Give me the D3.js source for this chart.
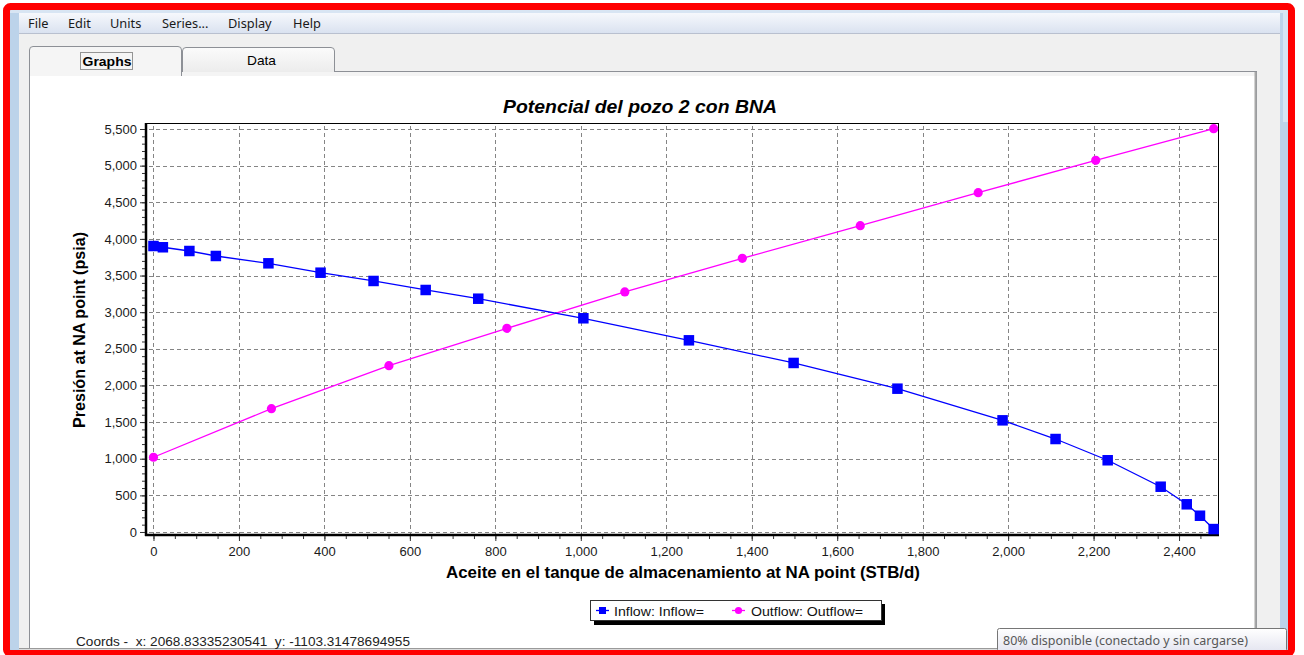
<!DOCTYPE html>
<html><head><meta charset="utf-8">
<script src="https://cdn.jsdelivr.net/npm/d3@7"></script>
<style>body{margin:0;background:#fff;overflow:hidden}svg{display:block}</style>
</head><body><svg id="c" width="1304" height="655"></svg>
<script>
// ---- data ----
const inflowX = [0, 22, 84, 146, 269, 391, 515, 637, 760, 1006, 1253, 1498, 1741, 1987, 2111, 2233, 2357, 2418, 2449, 2481];
const inflowY = [3903, 3886, 3835, 3767, 3667, 3539, 3426, 3303, 3184, 2917, 2616, 2307, 1956, 1524, 1269, 979, 618, 378, 222, 40];
const outflowX = [0, 276, 551, 827, 1103, 1378, 1654, 1930, 2205, 2481];
const outflowY = [1020, 1683, 2270, 2780, 3276, 3735, 4181, 4631, 5073, 5504];
const xTickValues = [0, 200, 400, 600, 800, 1000, 1200, 1400, 1600, 1800, 2000, 2200, 2400];
const yTickValues = [0, 500, 1000, 1500, 2000, 2500, 3000, 3500, 4000, 4500, 5000, 5500];
const seriesNames = ["Inflow: Inflow=", "Outflow: Outflow="];
const chartTitle = "Potencial del pozo 2 con BNA";
const xTitle = "Aceite en el tanque de almacenamiento at NA point (STB/d)";
const yTitle = "Presión at NA point (psia)";
const menuItems = ["File", "Edit", "Units", "Series...", "Display", "Help"];
const tabLabels = ["Graphs", "Data"];
const coordsText = "Coords -  x: 2068.83335230541  y: -1103.31478694955";
const statusText = "80% disponible (conectado y sin cargarse)";

const svg = d3.select("#c");
const FONT = "'Liberation Sans', Arial, sans-serif";
const UI = "'Noto Sans', 'Open Sans', sans-serif";

// ---- window chrome ----
svg.append("rect").attr("x",0).attr("y",0).attr("width",1304).attr("height",655).attr("fill","#fff");
svg.append("rect").attr("x",10).attr("y",10).attr("width",1279).attr("height",642).attr("fill","#f0f0f0");
svg.append("rect").attr("x",10).attr("y",10).attr("width",9).attr("height",642).attr("fill","#bcd3ea");
svg.append("rect").attr("x",1280).attr("y",10).attr("width",9).attr("height",642).attr("fill","#bcd3ea");
svg.append("rect").attr("x",1283).attr("y",12).attr("width",5).attr("height",110).attr("fill","#d6e5f4");
svg.append("rect").attr("x",10).attr("y",10).attr("width",1279).attr("height",3).attr("fill","#d8e5f3");
const defs = svg.append("defs");
const mg = defs.append("linearGradient").attr("id","mg").attr("x1",0).attr("x2",0).attr("y1",0).attr("y2",1);
mg.append("stop").attr("offset","0%").attr("stop-color","#f6f8fc");
mg.append("stop").attr("offset","100%").attr("stop-color","#dae2f0");
svg.append("rect").attr("x",19).attr("y",13).attr("width",1261).attr("height",20).attr("fill","url(#mg)");
svg.append("line").attr("x1",19).attr("x2",1280).attr("y1",33.5).attr("y2",33.5).attr("stroke","#b9c0cf");
const menuX = [28, 68, 110, 162, 228, 293];
svg.selectAll("text.menu").data(menuItems).enter().append("text")
  .attr("x",(d,i)=>menuX[i]).attr("y",28).attr("font-family",UI).attr("font-size",12.8)
  .attr("fill","#1a1a1a").text(d=>d);

// panel
svg.append("rect").attr("x",29.5).attr("y",71.5).attr("width",1227).attr("height",600)
  .attr("fill","#fff").attr("stroke","#8d9096");
svg.append("rect").attr("x",30).attr("y",72).attr("width",1226).attr("height",4).attr("fill","#f4f4f4");
svg.append("line").attr("x1",1255.5).attr("x2",1255.5).attr("y1",72).attr("y2",648).attr("stroke","#a8a8a8").attr("stroke-width",2);
svg.append("rect").attr("x",19).attr("y",648).attr("width",1261).attr("height",3).attr("fill","#dcdcdc");
svg.append("line").attr("x1",19).attr("x2",1280).attr("y1",648.5).attr("y2",648.5).attr("stroke","#9a9a9a");

// tabs
const tg = defs.append("linearGradient").attr("id","tg").attr("x1",0).attr("x2",0).attr("y1",0).attr("y2",1);
tg.append("stop").attr("offset","0%").attr("stop-color","#fbfbfb");
tg.append("stop").attr("offset","100%").attr("stop-color","#ececec");
svg.append("path").attr("d","M182.5,72 L182.5,51 Q182.5,47.5 186,47.5 L331,47.5 Q334.5,47.5 334.5,51 L334.5,72")
  .attr("fill","url(#tg)").attr("stroke","#8d9096");
svg.append("path").attr("d","M29.5,76 L29.5,50 Q29.5,46.5 33,46.5 L178,46.5 Q181.5,46.5 181.5,50 L181.5,76")
  .attr("fill","#f5f5f5").attr("stroke","#8d9096");
svg.append("rect").attr("x",30).attr("y",72).attr("width",151).attr("height",4).attr("fill","#f5f5f5");
svg.append("text").attr("x",107).attr("y",66).attr("text-anchor","middle").attr("font-family",FONT)
  .attr("font-size",13.5).attr("font-weight","bold").attr("fill","#000")
  .attr("textLength",49).attr("lengthAdjust","spacingAndGlyphs").text(tabLabels[0]);
svg.append("rect").attr("x",80.5).attr("y",52.5).attr("width",52).attr("height",17)
  .attr("fill","none").attr("stroke","#333").attr("stroke-dasharray","1,1");
svg.append("text").attr("x",261.5).attr("y",65).attr("text-anchor","middle").attr("font-family",FONT)
  .attr("font-size",13.5).attr("fill","#000")
  .attr("textLength",29).attr("lengthAdjust","spacingAndGlyphs").text(tabLabels[1]);

// ---- chart ----
const L = 146, T = 123, R = 1219, B = 535;
const x = d3.scaleLinear().domain([-17.5, 2493.5]).range([L, R]);
const y = d3.scaleLinear().domain([-41, 5582]).range([B, T]);

// grid
const g = svg.append("g");
g.selectAll("line.vg").data(xTickValues).enter().append("line")
  .attr("x1",d=>Math.round(x(d))+0.5).attr("x2",d=>Math.round(x(d))+0.5).attr("y1",T+3).attr("y2",B-1)
  .attr("stroke","#858585").attr("stroke-dasharray","4,3");
g.selectAll("line.hg").data(yTickValues).enter().append("line")
  .attr("y1",d=>Math.round(y(d))+0.5).attr("y2",d=>Math.round(y(d))+0.5).attr("x1",L+3).attr("x2",R-2)
  .attr("stroke","#858585").attr("stroke-dasharray","4,3");

// frame
svg.append("rect").attr("x",L+0.5).attr("y",T+0.5).attr("width",R-L-1).attr("height",B-T-1)
  .attr("fill","none").attr("stroke","#000");
svg.append("line").attr("x1",L).attr("x2",L).attr("y1",T).attr("y2",B+1).attr("stroke","#000").attr("stroke-width",2.5);
svg.append("line").attr("x1",L-1).attr("x2",R).attr("y1",B).attr("y2",B).attr("stroke","#000").attr("stroke-width",2.5);

// axes via d3
const xMinor = d3.range(0, 2451, 50);
const yMinor = d3.range(0, 5501, 100);
const xAxisMinor = d3.axisBottom(x).tickValues(xMinor).tickSize(3).tickFormat("");
const xAxis = d3.axisBottom(x).tickValues(xTickValues).tickSize(5).tickPadding(6).tickFormat(d3.format(","));
const yAxisMinor = d3.axisLeft(y).tickValues(yMinor).tickSize(3).tickFormat("");
const yAxis = d3.axisLeft(y).tickValues(yTickValues).tickSize(5).tickPadding(3).tickFormat(d3.format(","));
function styleAxis(sel){
  sel.select(".domain").remove();
  sel.selectAll("line").attr("stroke","#333");
  sel.selectAll("text").attr("font-family",FONT).attr("font-size",13).attr("fill","#1a1a1a");
}
svg.append("g").attr("transform",`translate(0,${B+1})`).call(xAxisMinor).call(styleAxis);
svg.append("g").attr("transform",`translate(0,${B+1})`).call(xAxis).call(styleAxis);
svg.append("g").attr("transform",`translate(${L-1},0)`).call(yAxisMinor).call(styleAxis);
svg.append("g").attr("transform",`translate(${L-1},0)`).call(yAxis).call(styleAxis);

// titles
svg.append("text").attr("x",640).attr("y",112.5).attr("text-anchor","middle").attr("font-family",FONT)
  .attr("font-size",19).attr("font-weight","bold").attr("font-style","italic").attr("fill","#000")
  .attr("textLength",274).attr("lengthAdjust","spacingAndGlyphs").text(chartTitle);
svg.append("text").attr("x",683).attr("y",577.5).attr("text-anchor","middle").attr("font-family",FONT)
  .attr("font-size",16.5).attr("font-weight","bold").attr("fill","#000")
  .attr("textLength",474).attr("lengthAdjust","spacingAndGlyphs").text(xTitle);
svg.append("text").attr("transform",`translate(85,${(T+B)/2+1}) rotate(-90)`).attr("text-anchor","middle")
  .attr("font-family",FONT).attr("font-size",16).attr("font-weight","bold").attr("fill","#000")
  .attr("textLength",196).attr("lengthAdjust","spacingAndGlyphs").text(yTitle);

// series
const inflow = inflowX.map((v,i)=>[v, inflowY[i]]);
const outflow = outflowX.map((v,i)=>[v, outflowY[i]]);
const line = d3.line().x(d=>x(d[0])).y(d=>y(d[1]));
const clip = defs.append("clipPath").attr("id","pc");
clip.append("rect").attr("x",L).attr("y",T).attr("width",R-L).attr("height",B-T);
const plot = svg.append("g").attr("clip-path","url(#pc)");
plot.append("path").datum(outflow).attr("d",line).attr("fill","none").attr("stroke","#ff00ff").attr("stroke-width",1.3);
plot.append("path").datum(inflow).attr("d",line).attr("fill","none").attr("stroke","#0000ff").attr("stroke-width",1.3);
plot.selectAll("circle.o").data(outflow).enter().append("circle")
  .attr("cx",d=>x(d[0])).attr("cy",d=>y(d[1])).attr("r",4.6).attr("fill","#ff00ff");
plot.selectAll("rect.i").data(inflow).enter().append("rect")
  .attr("x",d=>x(d[0])-5.25).attr("y",d=>y(d[1])-5.25).attr("width",10.5).attr("height",10.5).attr("fill","#0000ff");

// legend
svg.append("rect").attr("x",594).attr("y",604).attr("width",291).attr("height",21).attr("fill","#000");
svg.append("rect").attr("x",590.5).attr("y",600.5).attr("width",291).attr("height",20).attr("fill","#fff").attr("stroke","#333");
svg.append("line").attr("x1",596).attr("x2",609).attr("y1",610.5).attr("y2",610.5).attr("stroke","#0000ff").attr("stroke-width",1.3);
svg.append("rect").attr("x",599).attr("y",607).attr("width",7).attr("height",7).attr("fill","#0000ff");
svg.append("line").attr("x1",732).attr("x2",745).attr("y1",610.5).attr("y2",610.5).attr("stroke","#ff00ff").attr("stroke-width",1.3);
svg.append("circle").attr("cx",738.5).attr("cy",610.5).attr("r",3.6).attr("fill","#ff00ff");
const legX = [614, 751];
const legW = [90, 112];
svg.selectAll("text.leg").data(seriesNames).enter().append("text")
  .attr("x",(d,i)=>legX[i]).attr("y",615.5).attr("font-family",FONT).attr("font-size",13.5).attr("fill","#111")
  .attr("textLength",(d,i)=>legW[i]).attr("lengthAdjust","spacingAndGlyphs").text(d=>d);

// coords text
svg.append("text").attr("x",76).attr("y",645.5).attr("font-family",FONT).attr("font-size",13)
  .attr("fill","#222").attr("xml:space","preserve").style("white-space","pre")
  .attr("textLength",334).attr("lengthAdjust","spacingAndGlyphs").text(coordsText);

// status tooltip
const sg = defs.append("linearGradient").attr("id","sg").attr("x1",0).attr("x2",0).attr("y1",0).attr("y2",1);
sg.append("stop").attr("offset","0%").attr("stop-color","#ffffff");
sg.append("stop").attr("offset","100%").attr("stop-color","#e4e5f0");
svg.append("rect").attr("x",997.5).attr("y",628.5).attr("width",289).attr("height",23).attr("rx",2)
  .attr("fill","url(#sg)").attr("stroke","#767676");
svg.append("text").attr("x",1003).attr("y",645).attr("font-family",UI).attr("font-size",12.5)
  .attr("fill","#575757").text(statusText);

// red border
svg.append("rect").attr("x",6.5).attr("y",6.5).attr("width",1285).attr("height",647).attr("rx",4)
  .attr("fill","none").attr("stroke","#ff0000").attr("stroke-width",7);
</script></body></html>
